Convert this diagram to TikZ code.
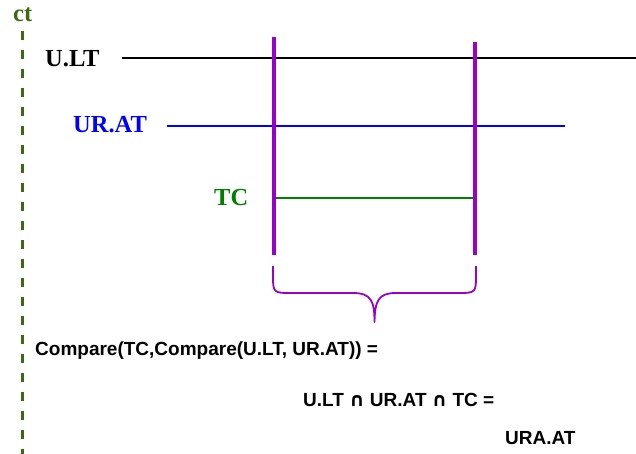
\documentclass[tikz,border=0pt]{standalone}
\usepackage{fontspec}
\setmainfont{Liberation Serif}
\newfontfamily\arialf{Liberation Sans}
\newfontfamily\djv{DejaVu Sans}
\newcommand{\capsym}{{\djv\bfseries ∩}}
\definecolor{ctgreen}{RGB}{62,104,20}
\definecolor{tcgreen}{RGB}{0,128,0}
\definecolor{urblue}{RGB}{0,0,255}
\definecolor{tpurple}{RGB}{153,0,204}
\begin{document}
\begin{tikzpicture}[x=1pt,y=-1pt,
  lbl/.style={anchor=base west,inner sep=0pt,font=\fontsize{24.5}{24.5}\selectfont\bfseries},
  eq/.style={anchor=base west,inner sep=0pt,font=\arialf\fontsize{19}{19}\selectfont\bfseries},
  tline/.style={line width=2.8pt},
  bound/.style={line width=4pt,tpurple},
  bracepath/.style={line width=1.8pt,tpurple,line join=round}]
\useasboundingbox (0,0) rectangle (636,454);
% time axis
\node[lbl,text=ctgreen] (ct) at (13,22) {ct};
\coordinate (axtop) at (22.3,31);
\coordinate (axbot) at (22.3,454);
\draw[ctgreen,line width=3.3pt,dash pattern=on 9pt off 10pt] (axtop) -- (axbot);
% U.LT
\node[lbl,text=black] (ult) at (45,67) {U.LT};
\coordinate (ults) at (122,58);
\coordinate (ulte) at (636,58);
\draw[tline,black] (ults) -- (ulte);
% UR.AT
\node[lbl,text=urblue] (urat) at (73,133) {UR.AT};
\coordinate (urats) at (167,126);
\coordinate (urate) at (565,126);
\draw[tline,urblue] (urats) -- (urate);
% TC
\node[lbl,text=tcgreen] (tc) at (214,206) {TC};
\coordinate (tcs) at (274,198);
\coordinate (tce) at (475,198);
\draw[tline,tcgreen] (tcs) -- (tce);
% bounds
\coordinate (b1t) at (274,37);
\coordinate (b1b) at (274,255);
\coordinate (b2t) at (475,42);
\coordinate (b2b) at (475,255);
\draw[bound] (b1t) -- (b1b);
\draw[bound] (b2t) -- (b2b);
% brace
\coordinate (brl) at (273,266);
\coordinate (brr) at (476,266);
\coordinate (brtip) at (374.5,322);
\draw[bracepath] (brl) -- (273,274) .. controls (273,293) .. (292,293) -- (353,293)
  .. controls (371,293) and (374.5,301) .. (brtip)
  .. controls (375,301) and (378,293) .. (396,293) -- (457,293)
  .. controls (476,293) .. (476,274) -- (brr);
% equations
\node[eq] (eq1) at (35,355) {Compare(TC,Compare(U.LT, UR.AT)) =};
\node[eq] (eq2) at (303,406) {U.LT \capsym{} UR.AT \capsym{} TC =};
\node[eq] (eq3) at (505,444) {URA.AT};
\end{tikzpicture}
\end{document}
